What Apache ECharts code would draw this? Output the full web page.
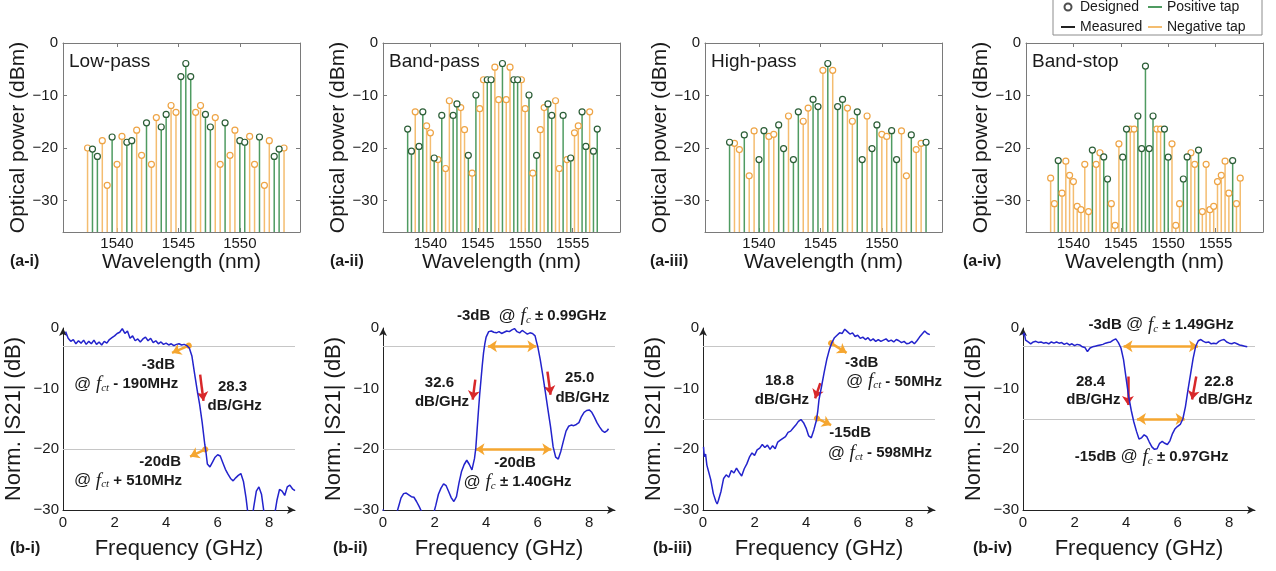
<!DOCTYPE html>
<html>
<head>
<meta charset="utf-8">
<title>FIR filter taps and S21</title>
<script src="https://cdn.jsdelivr.net/npm/echarts@6/dist/echarts.min.js"></script>
<style>
  html, body { margin: 0; padding: 0; background: #fff; }
  #main { width: 1276px; height: 571px; }
</style>
</head>
<body>
<div id="main"></div>
<script>
// wavelength grids of the taps (nm)
var wlNarrow = [1537.6, 1538.0, 1538.4, 1538.8, 1539.2, 1539.6, 1540.0, 1540.4, 1540.8, 1541.2,
  1541.6, 1542.0, 1542.4, 1542.8, 1543.2, 1543.6, 1544.0, 1544.4, 1544.8, 1545.2,
  1545.6, 1546.0, 1546.4, 1546.8, 1547.2, 1547.6, 1548.0, 1548.4, 1548.8, 1549.2,
  1549.6, 1550.0, 1550.4, 1550.8, 1551.2, 1551.6, 1552.0, 1552.4, 1552.8, 1553.2, 1553.6];
var wlWide = [1537.6, 1538.0, 1538.4, 1538.8, 1539.2, 1539.6, 1540.0, 1540.4, 1540.8, 1541.2,
  1541.6, 1542.0, 1542.4, 1542.8, 1543.2, 1543.6, 1544.0, 1544.4, 1544.8, 1545.2,
  1545.6, 1546.0, 1546.4, 1546.8, 1547.2, 1547.6, 1548.0, 1548.4, 1548.8, 1549.2,
  1549.6, 1550.0, 1550.4, 1550.8, 1551.2, 1551.6, 1552.0, 1552.4, 1552.8, 1553.2,
  1553.6, 1554.0, 1554.4, 1554.8, 1555.2, 1555.6, 1556.0, 1556.4, 1556.8, 1557.2, 1557.6];

// tap powers (dBm), sign: 1 = positive tap, -1 = negative tap
var lowPassPower = [-20.0, -20.2, -21.6, -18.6, -27.1, -17.9, -23.1, -17.8, -18.9, -18.6,
  -16.6, -21.4, -15.2, -23.1, -14.2, -16.0, -13.6, -11.9, -13.2, -6.4,
  -3.9, -6.4, -13.2, -11.9, -13.6, -16.0, -14.2, -23.1, -15.2, -21.4,
  -16.6, -18.6, -18.9, -17.8, -23.1, -17.9, -27.1, -18.6, -21.6, -20.2, -20.0];
var lowPassSign = [-1, 1, 1, -1, -1, 1, -1, -1, 1, 1, -1, -1, 1, -1, -1, 1, 1, -1, -1, 1,
  1, 1, -1, -1, 1, 1, -1, -1, 1, -1, -1, 1, 1, -1, -1, 1, -1, -1, 1, 1, -1];

var bandPassPower = [-16.4, -20.6, -13.1, -19.7, -13.1, -15.8, -17.1, -21.9, -22.2, -13.8,
  -23.9, -11.0, -13.8, -11.6, -12.3, -16.5, -21.4, -24.8, -9.9, -12.5,
  -7.0, -7.0, -7.0, -4.6, -10.8, -3.9, -10.8, -4.6, -7.0, -7.0,
  -7.0, -12.5, -9.9, -24.8, -21.4, -16.5, -12.3, -11.6, -13.8, -11.0,
  -23.9, -13.8, -22.2, -21.9, -17.1, -15.8, -13.1, -19.7, -13.1, -20.6, -16.4];
var bandPassSign = [1, 1, -1, 1, 1, -1, -1, 1, -1, 1, -1, -1, 1, 1, -1, -1, 1, -1, 1, -1,
  -1, 1, 1, -1, -1, 1, -1, -1, 1, 1, -1, -1, 1, -1, 1, -1, -1, 1, 1, -1,
  -1, 1, -1, 1, -1, -1, 1, 1, -1, 1, 1];

var highPassPower = [-18.9, -19.1, -20.3, -17.5, -25.3, -16.75, -22.2, -16.7, -17.8, -17.4,
  -15.6, -20.1, -13.9, -22.2, -13.1, -14.9, -12.4, -10.75, -12.1, -5.2,
  -3.9, -5.2, -12.1, -10.75, -12.4, -14.9, -13.1, -22.2, -13.9, -20.1,
  -15.6, -17.4, -17.8, -16.7, -22.2, -16.75, -25.3, -17.5, -20.3, -19.1, -18.9];
var highPassSign = [1, -1, -1, 1, -1, -1, 1, 1, -1, -1, 1, 1, -1, 1, 1, -1, -1, 1, 1, -1,
  1, -1, 1, 1, -1, -1, 1, 1, -1, 1, 1, -1, -1, 1, 1, -1, -1, 1, -1, -1, 1];

var bandStopPower = [-25.75, -30.6, -22.4, -28.6, -22.5, -25.2, -26.4, -31.1, -31.75, -23.1,
  -32.1, -20.4, -23.1, -20.9, -21.7, -25.9, -30.6, -34.75, -19.2, -21.75,
  -16.4, -16.4, -16.4, -13.9, -20.1, -4.4, -20.1, -13.9, -16.4, -16.4,
  -16.4, -21.75, -19.2, -34.75, -30.6, -25.9, -21.7, -20.9, -23.1, -20.4,
  -32.1, -23.1, -31.75, -31.1, -26.4, -25.2, -22.5, -28.6, -22.4, -30.6, -25.75];
var bandStopSign = [-1, -1, 1, -1, -1, -1, -1, -1, -1, -1, -1, 1, -1, -1, 1, 1, -1, -1, -1, 1,
  1, -1, -1, 1, 1, 1, 1, 1, -1, -1, 1, 1, -1, -1, -1, 1, 1, -1, -1, 1,
  -1, -1, -1, -1, -1, -1, -1, -1, 1, -1, -1];

// measured normalised |S21| : [frequency GHz, dB]
var s21LowPass = [[0.1, -0.6], [0.2, -1.7], [0.3, -2.2], [0.4, -1.9], [0.5, -2.6], [0.6, -2.1], [0.7, -2.5], [0.8, -2.0], [0.9, -2.7], [1.0, -2.2],
  [1.1, -2.6], [1.2, -2.0], [1.3, -2.7], [1.4, -2.3], [1.5, -2.8], [1.6, -2.2], [1.7, -2.5], [1.8, -1.9], [1.9, -1.6], [2.0, -1.3],
  [2.1, -0.9], [2.2, -0.7], [2.3, -0.1], [2.4, -0.9], [2.5, -0.5], [2.6, -1.7], [2.7, -1.3], [2.8, -2.1], [2.9, -1.8], [3.0, -2.3],
  [3.1, -1.8], [3.2, -1.5], [3.3, -2.1], [3.4, -1.7], [3.5, -2.4], [3.6, -2.1], [3.7, -2.6], [3.8, -2.3], [3.9, -2.7], [4.0, -2.5],
  [4.1, -2.8], [4.2, -2.6], [4.3, -2.9], [4.4, -2.7], [4.5, -2.6], [4.6, -2.8], [4.7, -2.7], [4.8, -2.9], [4.9, -3.3], [5.0, -4.6],
  [5.1, -7.4], [5.2, -10.1], [5.3, -12.6], [5.4, -15.6], [5.5, -19.2], [5.55, -20.6], [5.6, -22.4], [5.7, -22.9], [5.8, -22.1], [5.9, -21.3],
  [6.0, -20.9], [6.1, -21.1], [6.2, -22.2], [6.3, -23.3], [6.4, -24.1], [6.5, -24.8], [6.6, -25.2], [6.7, -24.7], [6.8, -24.3], [6.9, -24.0],
  [7.0, -25.3], [7.1, -28.0], [7.2, -31.5], [7.3, -32.5], [7.4, -29.5], [7.5, -26.9], [7.6, -26.2], [7.7, -27.4], [7.8, -30.5], [7.9, -33.0],
  [8.0, -34.0], [8.1, -33.0], [8.2, -31.0], [8.3, -28.4], [8.4, -26.6], [8.5, -26.9], [8.6, -27.6], [8.7, -26.2], [8.8, -25.9], [8.9, -26.5], [9.0, -26.8]];

var s21BandPass = [[0.0, -29.9], [0.1, -30.8], [0.3, -32.0], [0.5, -31.0], [0.6, -29.5], [0.7, -28.0], [0.8, -27.3], [0.9, -27.2], [1.0, -27.5], [1.1, -27.8],
  [1.2, -27.9], [1.3, -28.6], [1.4, -29.4], [1.5, -30.3], [1.6, -31.5], [1.8, -32.0], [1.95, -30.8], [2.05, -29.2], [2.15, -27.4], [2.25, -26.4],
  [2.35, -25.7], [2.45, -26.0], [2.55, -27.0], [2.65, -28.0], [2.75, -28.6], [2.85, -27.8], [2.95, -25.5], [3.05, -23.6], [3.15, -22.5], [3.25, -21.8],
  [3.35, -22.5], [3.45, -23.4], [3.55, -21.5], [3.6, -19.8], [3.65, -16.8], [3.7, -13.8], [3.75, -11.0], [3.8, -8.6], [3.85, -6.2], [3.9, -4.1],
  [3.95, -2.6], [4.0, -1.5], [4.1, -0.6], [4.2, -0.5], [4.3, -0.7], [4.4, -0.8], [4.5, -0.6], [4.6, -0.9], [4.7, -0.7], [4.8, -0.5],
  [4.9, -0.6], [5.0, -0.3], [5.1, -0.1], [5.2, -0.6], [5.3, -0.8], [5.4, -0.4], [5.5, -0.7], [5.6, -1.0], [5.7, -0.8], [5.8, -0.9],
  [5.9, -1.3], [5.95, -2.2], [6.0, -3.0], [6.1, -5.2], [6.2, -7.8], [6.3, -10.6], [6.4, -13.5], [6.5, -16.3], [6.6, -19.6], [6.7, -21.3],
  [6.8, -21.6], [6.9, -20.3], [7.0, -18.6], [7.1, -17.0], [7.2, -16.2], [7.3, -16.0], [7.4, -16.1], [7.5, -15.9], [7.6, -15.6], [7.7, -14.6],
  [7.8, -13.9], [7.9, -13.6], [8.0, -13.5], [8.1, -13.9], [8.2, -14.7], [8.3, -15.6], [8.4, -16.3], [8.5, -16.9], [8.6, -17.2], [8.7, -16.9], [8.75, -16.6]];

var s21HighPass = [[0.02, -19.6], [0.05, -21.2], [0.1, -20.8], [0.15, -22.6], [0.2, -23.4], [0.3, -25.0], [0.4, -27.3], [0.5, -28.6], [0.55, -29.0], [0.6, -28.4],
  [0.7, -26.9], [0.8, -24.8], [0.9, -24.2], [1.0, -24.6], [1.1, -23.5], [1.2, -23.9], [1.3, -23.1], [1.4, -23.8], [1.5, -24.4], [1.6, -23.2],
  [1.7, -22.4], [1.8, -21.3], [1.9, -20.6], [2.0, -21.0], [2.1, -20.1], [2.2, -19.8], [2.3, -19.2], [2.4, -19.7], [2.5, -19.3], [2.6, -20.0],
  [2.7, -19.4], [2.8, -19.9], [2.9, -18.8], [3.0, -18.5], [3.1, -18.2], [3.2, -17.9], [3.3, -17.2], [3.4, -17.0], [3.5, -16.5], [3.6, -16.0],
  [3.7, -15.4], [3.8, -15.1], [3.9, -15.6], [4.0, -16.5], [4.1, -17.8], [4.2, -18.1], [4.3, -16.8], [4.4, -15.2], [4.45, -13.8], [4.5, -11.8],
  [4.6, -9.6], [4.7, -7.3], [4.8, -5.2], [4.9, -3.6], [5.0, -2.4], [5.1, -1.6], [5.2, -1.2], [5.3, -0.8], [5.4, -0.9], [5.5, -0.2],
  [5.6, -0.6], [5.7, -1.0], [5.8, -0.8], [5.9, -1.4], [6.0, -1.2], [6.1, -1.7], [6.2, -1.5], [6.3, -1.9], [6.4, -1.6], [6.5, -2.1],
  [6.6, -1.8], [6.7, -2.2], [6.8, -1.9], [6.9, -2.2], [7.0, -2.0], [7.1, -1.8], [7.2, -2.2], [7.3, -2.0], [7.4, -2.3], [7.5, -1.9],
  [7.6, -2.1], [7.7, -2.4], [7.8, -2.2], [7.9, -2.6], [8.0, -2.5], [8.1, -2.2], [8.2, -2.6], [8.3, -2.1], [8.4, -1.5], [8.5, -1.0],
  [8.6, -0.5], [8.7, -0.9], [8.8, -1.1]];

var s21BandStop = [[0.0, -1.2], [0.05, -0.8], [0.1, -2.0], [0.2, -2.3], [0.3, -2.6], [0.4, -2.3], [0.5, -2.2], [0.6, -2.4], [0.7, -2.3], [0.8, -2.5],
  [0.9, -2.4], [1.0, -2.6], [1.1, -2.3], [1.2, -2.5], [1.3, -2.3], [1.4, -2.5], [1.5, -2.4], [1.6, -2.7], [1.7, -2.5], [1.8, -2.8],
  [1.9, -2.6], [2.0, -2.9], [2.1, -2.7], [2.2, -2.8], [2.3, -3.1], [2.4, -3.2], [2.5, -3.9], [2.6, -3.3], [2.7, -3.1], [2.8, -3.0],
  [2.9, -2.9], [3.0, -2.8], [3.1, -2.7], [3.2, -2.5], [3.3, -2.4], [3.4, -2.3], [3.5, -2.0], [3.6, -1.8], [3.7, -2.4], [3.8, -3.3],
  [3.9, -5.2], [4.0, -8.3], [4.1, -11.3], [4.2, -13.6], [4.3, -15.5], [4.4, -17.0], [4.5, -18.3], [4.6, -18.1], [4.7, -17.6], [4.8, -17.9],
  [4.9, -18.8], [5.0, -19.6], [5.1, -20.0], [5.2, -19.9], [5.3, -19.0], [5.4, -18.7], [5.5, -19.0], [5.6, -19.2], [5.7, -18.6], [5.8, -17.4],
  [5.9, -16.6], [6.0, -16.2], [6.1, -15.9], [6.2, -15.0], [6.3, -13.0], [6.4, -10.2], [6.5, -7.6], [6.6, -5.0], [6.7, -3.0], [6.8, -2.1],
  [6.9, -1.9], [7.0, -2.2], [7.1, -2.4], [7.2, -2.3], [7.3, -2.6], [7.4, -2.5], [7.5, -2.6], [7.6, -2.2], [7.7, -2.0], [7.8, -1.9],
  [7.9, -2.3], [8.0, -2.5], [8.1, -2.6], [8.2, -2.4], [8.3, -2.6], [8.4, -2.8], [8.5, -2.9], [8.6, -3.0], [8.7, -3.1]];

(function () {
  var chart = echarts.init(document.getElementById('main'));

  var SANS = '"Liberation Sans", Arial, Helvetica, sans-serif';
  var SERIF = '"Liberation Serif", "Times New Roman", serif';
  var TXT = '#1a1a1a';
  var GREEN = '#4f9b61', GREEN_MARK = '#2c5e37';
  var ORANGE = '#f4bd70', ORANGE_MARK = '#eea445';
  var BLUE = '#2323cc', ARROW_OR = '#f5a630', ARROW_RED = '#d8282a';
  var BOX = '#7a7a7a';

  function minusLabel(v) {
    return (v < 0 ? '\u2212' : '') + Math.abs(v);
  }
  function plainLabel(v) {
    return String(v);
  }

  var topPanels = [
    {title: 'Low-pass', tag: '(a-i)', wl: wlNarrow, power: lowPassPower, sign: lowPassSign, left: 63, xMin: 1535.6, xMax: 1554.9, tagX: 10},
    {title: 'Band-pass', tag: '(a-ii)', wl: wlWide, power: bandPassPower, sign: bandPassSign, left: 383, xMin: 1535, xMax: 1560, tagX: 330},
    {title: 'High-pass', tag: '(a-iii)', wl: wlNarrow, power: highPassPower, sign: highPassSign, left: 705, xMin: 1535.6, xMax: 1554.9, tagX: 650},
    {title: 'Band-stop', tag: '(a-iv)', wl: wlWide, power: bandStopPower, sign: bandStopSign, left: 1026, xMin: 1535, xMax: 1560, tagX: 963}
  ];

  var bottomPanels = [
    {tag: '(b-i)', tagX: 10, left: 63, data: s21LowPass, refs: [-3, -20],
      arrows: [
        {from: [4.88, -2.9], to: [4.23, -4.1], color: ARROW_OR, start: 'circle'},
        {from: [5.52, -20], to: [4.93, -21.2], color: ARROW_OR, start: 'circle'},
        {from: [5.32, -7.7], to: [5.45, -12.0], color: ARROW_RED, start: 'none'}
      ],
      notes: [
        {at: [3.70, -6.05], t: '{b|-3dB}'},
        {at: [2.45, -9.2], t: '{a|@ }{f|f}{s|ct}{b| - 190MHz}'},
        {at: [6.58, -9.74], t: '{b|28.3}'},
        {at: [6.66, -12.9], t: '{b|dB/GHz}'},
        {at: [3.77, -22.0], t: '{b|-20dB}'},
        {at: [2.52, -25.15], t: '{a|@ }{f|f}{s|ct}{b| + 510MHz}'}
      ]},
    {tag: '(b-ii)', tagX: 333, left: 383, data: s21BandPass, refs: [-3, -20],
      arrows: [
        {from: [4.07, -3], to: [5.95, -3], color: ARROW_OR, start: 'arrow'},
        {from: [3.59, -20], to: [6.53, -20], color: ARROW_OR, start: 'arrow'},
        {from: [3.58, -8.5], to: [3.48, -11.8], color: ARROW_RED, start: 'none'},
        {from: [6.38, -7.2], to: [6.5, -11.0], color: ARROW_RED, start: 'none'}
      ],
      notes: [
        {at: [5.77, 1.93], t: '{b|-3dB  }{a|@ }{f|f}{s|c}{b| \u00b1 0.99GHz}'},
        {at: [2.19, -8.97], t: '{b|32.6}'},
        {at: [2.29, -12.1], t: '{b|dB/GHz}'},
        {at: [7.63, -8.26], t: '{b|25.0}'},
        {at: [7.74, -11.56], t: '{b|dB/GHz}'},
        {at: [5.12, -22.3], t: '{b|-20dB}'},
        {at: [5.22, -25.4], t: '{a|@ }{f|f}{s|c}{b| \u00b1 1.40GHz}'}
      ]},
    {tag: '(b-iii)', tagX: 653, left: 703, data: s21HighPass, refs: [-3, -15],
      arrows: [
        {from: [4.97, -2.5], to: [5.57, -4.1], color: ARROW_OR, start: 'circle'},
        {from: [4.42, -14.9], to: [4.97, -16.0], color: ARROW_OR, start: 'circle'},
        {from: [4.55, -9.1], to: [4.35, -11.6], color: ARROW_RED, start: 'none'}
      ],
      notes: [
        {at: [2.97, -8.64], t: '{b|18.8}'},
        {at: [3.06, -11.83], t: '{b|dB/GHz}'},
        {at: [6.16, -5.78], t: '{b|-3dB}'},
        {at: [7.41, -8.8], t: '{a|@ }{f|f}{s|ct}{b| - 50MHz}'},
        {at: [5.71, -17.3], t: '{b|-15dB}'},
        {at: [6.86, -20.6], t: '{a|@ }{f|f}{s|ct}{b| - 598MHz}'}
      ]},
    {tag: '(b-iv)', tagX: 973, left: 1023, data: s21BandStop, refs: [-3, -15],
      arrows: [
        {from: [3.9, -3], to: [6.79, -3], color: ARROW_OR, start: 'arrow'},
        {from: [4.42, -15], to: [6.27, -15], color: ARROW_OR, start: 'arrow'},
        {from: [4.07, -8.0], to: [4.07, -12.7], color: ARROW_RED, start: 'none'},
        {from: [6.72, -8.0], to: [6.56, -11.8], color: ARROW_RED, start: 'none'}
      ],
      notes: [
        {at: [5.36, 0.55], t: '{b|-3dB }{a|@ }{f|f}{s|c}{b| \u00b1 1.49GHz}'},
        {at: [2.62, -8.8], t: '{b|28.4}'},
        {at: [2.73, -11.83], t: '{b|dB/GHz}'},
        {at: [7.6, -8.8], t: '{b|22.8}'},
        {at: [7.85, -11.83], t: '{b|dB/GHz}'},
        {at: [4.99, -21.2], t: '{b|-15dB }{a|@ }{f|f}{s|c}{b| \u00b1 0.97GHz}'}
      ]}
  ];

  var grids = [], xAxes = [], yAxes = [], series = [];

  // stem drawn from the bottom of the axis up to the tap power
  function stemSeries(data, color, xi, yi, base) {
    return {
      type: 'custom', xAxisIndex: xi, yAxisIndex: yi, data: data, silent: true, z: 2,
      renderItem: function (params, api) {
        var tip = api.coord([api.value(0), api.value(1)]);
        var foot = api.coord([api.value(0), base]);
        return {
          type: 'line',
          shape: {x1: foot[0], y1: foot[1], x2: tip[0], y2: tip[1]},
          style: {stroke: color, lineWidth: 1.5}
        };
      }
    };
  }

  function markSeries(data, color, xi, yi) {
    return {
      type: 'scatter', xAxisIndex: xi, yAxisIndex: yi, data: data, silent: true, z: 3,
      symbol: 'circle', symbolSize: 6,
      itemStyle: {color: '#fff', borderColor: color, borderWidth: 1.2, opacity: 1}
    };
  }

  var tickFont = {fontSize: 15, color: TXT, fontFamily: SANS};
  var nameFont = {fontSize: 21, color: TXT, fontFamily: SANS};

  //上排：抽头功率
  topPanels.forEach(function (p) {
    var g = grids.length;
    grids.push({left: p.left, top: 43, width: 237, height: 189});
    [false, true].forEach(function (isTop) {
      xAxes.push({
        gridIndex: g, type: 'value', position: isTop ? 'top' : 'bottom',
        min: p.xMin, max: p.xMax, splitNumber: 4,
        axisLine: {show: true, onZero: false, lineStyle: {color: BOX, width: 1}},
        axisTick: {show: true, inside: true, length: 4, lineStyle: {color: BOX}},
        axisLabel: Object.assign({show: !isTop, margin: 4, showMinLabel: false, showMaxLabel: false, formatter: plainLabel}, tickFont),
        splitLine: {show: false},
        name: isTop ? '' : 'Wavelength (nm)', nameLocation: 'middle', nameGap: 20,
        nameTextStyle: nameFont
      });
      yAxes.push({
        gridIndex: g, type: 'value', position: isTop ? 'right' : 'left',
        min: -36, max: 0, splitNumber: 4,
        axisLine: {show: true, onZero: false, lineStyle: {color: BOX, width: 1}},
        axisTick: {show: true, inside: true, length: 4, lineStyle: {color: BOX}},
        axisLabel: Object.assign({show: !isTop, margin: 5, showMinLabel: false, formatter: minusLabel}, tickFont),
        splitLine: {show: false},
        name: isTop ? '' : 'Optical power (dBm)', nameLocation: 'middle', nameGap: 28,
        nameTextStyle: nameFont
      });
    });
    var xi = xAxes.length - 2, yi = yAxes.length - 2;
    var pos = [], neg = [];
    p.wl.forEach(function (w, k) {
      (p.sign[k] > 0 ? pos : neg).push([w, p.power[k]]);
    });
    series.push(stemSeries(neg, ORANGE, xi, yi, -36));
    series.push(stemSeries(pos, GREEN, xi, yi, -36));
    series.push(markSeries(neg, ORANGE_MARK, xi, yi));
    series.push(markSeries(pos, GREEN_MARK, xi, yi));
  });

  function arrowLine(a) {
    var startSize = a.start === 'circle' ? 6 : 9;
    return [
      {coord: a.from, symbol: a.start, symbolSize: startSize,
        lineStyle: {color: a.color, width: 2.5, type: 'solid'}, itemStyle: {color: a.color}},
      {coord: a.to, symbol: 'arrow', symbolSize: 9, itemStyle: {color: a.color}}
    ];
  }

  //下排：S21
  bottomPanels.forEach(function (p) {
    var g = grids.length;
    p.grid = g;
    grids.push({left: p.left, top: 328, width: 232, height: 182});
    xAxes.push({
      gridIndex: g, type: 'value', min: 0, max: 9, interval: 2,
      axisLine: {show: true, onZero: false, symbol: ['none', 'arrow'], symbolSize: [6, 8], lineStyle: {color: '#222', width: 1}},
      axisTick: {show: false},
      axisLabel: Object.assign({margin: 5, showMaxLabel: false}, tickFont),
      splitLine: {show: false},
      name: 'Frequency (GHz)', nameLocation: 'middle', nameGap: 28,
      nameTextStyle: {fontSize: 22, color: TXT, fontFamily: SANS}
    });
    yAxes.push({
      gridIndex: g, type: 'value', min: -30, max: 0, interval: 10,
      axisLine: {show: true, onZero: false, symbol: ['none', 'arrow'], symbolSize: [6, 8], lineStyle: {color: '#222', width: 1}},
      axisTick: {show: false},
      axisLabel: Object.assign({margin: 4, formatter: minusLabel}, tickFont),
      splitLine: {show: false},
      name: 'Norm. |S21| (dB)', nameLocation: 'middle', nameGap: 38,
      nameTextStyle: {fontSize: 22, color: TXT, fontFamily: SANS}
    });
    var refLines = p.refs.map(function (v) {
      return {yAxis: v, lineStyle: {color: '#c6c6c6', width: 1, type: 'solid'}};
    });
    series.push({
      type: 'line', xAxisIndex: xAxes.length - 1, yAxisIndex: yAxes.length - 1,
      data: p.data, symbol: 'none', showSymbol: false, clip: true, z: 3,
      lineStyle: {color: BLUE, width: 1.5},
      markLine: {
        silent: true, symbol: 'none', label: {show: false}, z: 2,
        data: refLines.concat(p.arrows.map(arrowLine))
      }
    });
  });

  // legend entries
  series.push({name: 'Designed', type: 'scatter', data: [], symbol: 'emptyCircle', itemStyle: {color: '#222'}, xAxisIndex: 0, yAxisIndex: 0});
  series.push({name: 'Positive tap', type: 'line', data: [], symbol: 'none', lineStyle: {color: GREEN, width: 1.5}, itemStyle: {color: GREEN}, xAxisIndex: 0, yAxisIndex: 0});
  series.push({name: 'Measured', type: 'line', data: [], symbol: 'none', lineStyle: {color: '#222', width: 1.5}, itemStyle: {color: '#222'}, xAxisIndex: 0, yAxisIndex: 0});
  series.push({name: 'Negative tap', type: 'line', data: [], symbol: 'none', lineStyle: {color: ORANGE, width: 1.5}, itemStyle: {color: ORANGE}, xAxisIndex: 0, yAxisIndex: 0});

  var legendBase = {
    top: 0, orient: 'vertical', itemWidth: 14, itemHeight: 7, itemGap: 6, padding: 0, z: 5,
    selectedMode: false,
    textStyle: {fontSize: 14, color: TXT, fontFamily: SANS, lineHeight: 12}
  };
  var hideDot = {opacity: 0};

  chart.setOption({
    animation: false,
    backgroundColor: '#fff',
    textStyle: {fontFamily: SANS},
    legend: [
      Object.assign({left: 1060, data: [{name: 'Designed'}, {name: 'Measured', itemStyle: hideDot}]}, legendBase),
      Object.assign({left: 1147, data: [{name: 'Positive tap', itemStyle: hideDot}, {name: 'Negative tap', itemStyle: hideDot}]}, legendBase)
    ],
    grid: grids,
    xAxis: xAxes,
    yAxis: yAxes,
    series: series
  });

  // texts: panel titles, tags, annotations placed through the axes
  var rich = {
    b: {fontSize: 15, fontWeight: 'bold', fontFamily: SANS, fill: TXT},
    a: {fontSize: 17, fontFamily: SANS, fill: TXT},
    f: {fontSize: 19, fontStyle: 'italic', fontFamily: SERIF, fill: TXT},
    s: {fontSize: 11, fontStyle: 'italic', fontFamily: SERIF, fill: TXT, verticalAlign: 'bottom'}
  };
  var graphics = [
    {type: 'rect', shape: {x: 1053, y: -2, width: 209, height: 37}, z: 1, silent: true,
      style: {fill: '#fff', stroke: '#8c8c8c', lineWidth: 1}}
  ];
  topPanels.forEach(function (p) {
    graphics.push({type: 'text', x: p.left + 6, y: 62, silent: true,
      style: {text: p.title, fontSize: 19, fontFamily: SANS, fill: TXT, verticalAlign: 'middle'}});
    graphics.push({type: 'text', x: p.tagX, y: 262, silent: true,
      style: {text: p.tag, fontSize: 16, fontWeight: 'bold', fontFamily: SANS, fill: TXT, verticalAlign: 'middle'}});
  });
  bottomPanels.forEach(function (p) {
    graphics.push({type: 'text', x: p.tagX, y: 549, silent: true,
      style: {text: p.tag, fontSize: 16, fontWeight: 'bold', fontFamily: SANS, fill: TXT, verticalAlign: 'middle'}});
    p.notes.forEach(function (n) {
      var px = chart.convertToPixel({gridIndex: p.grid}, n.at);
      graphics.push({type: 'text', x: px[0], y: px[1], silent: true, z: 10,
        style: {text: n.t, rich: rich, align: 'center', verticalAlign: 'middle', fill: TXT}});
    });
  });
  chart.setOption({graphic: graphics});
})();
</script>
</body>
</html>
